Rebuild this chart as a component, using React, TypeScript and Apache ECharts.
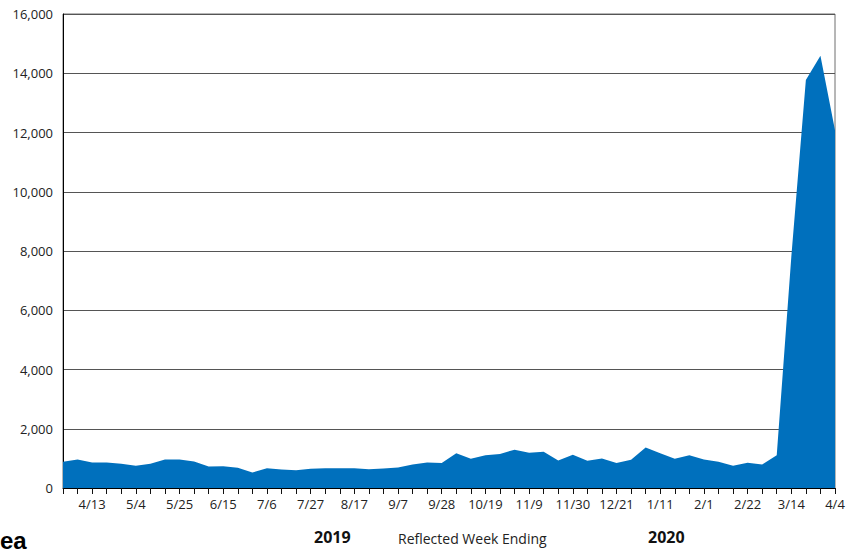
import React, { useEffect, useRef } from "react";
import * as echarts from "echarts";

const weeks: string[] = [
  "3/30", "4/6", "4/13", "4/20", "4/27", "5/4", "5/11", "5/18", "5/25", "6/1",
  "6/8", "6/15", "6/22", "6/29", "7/6", "7/13", "7/20", "7/27", "8/3", "8/10",
  "8/17", "8/24", "8/31", "9/7", "9/14", "9/21", "9/28", "10/5", "10/12", "10/19",
  "10/26", "11/2", "11/9", "11/16", "11/23", "11/30", "12/7", "12/14", "12/21", "12/28",
  "1/4", "1/11", "1/18", "1/25", "2/1", "2/8", "2/15", "2/22", "2/29", "3/7",
  "3/14", "3/21", "3/28", "4/4",
];

const claims: number[] = [
  886, 966, 863, 863, 818, 750, 818, 966, 966, 897,
  727, 738, 682, 523, 670, 625, 602, 648, 670, 670,
  670, 636, 659, 693, 795, 863, 840, 1170, 988, 1102,
  1147, 1295, 1193, 1227, 932, 1125, 920, 1000, 840, 954,
  1363, 1170, 988, 1102, 966, 886, 750, 852, 795, 1102,
  7800, 13770, 14590, 12080,
];

const yTicks = { min: 0, max: 16000, interval: 2000 };
const axisTitle = "Reflected Week Ending";
const yearLabels = ["2019", "2020"];
const cutTitle = "ea";

const FONT = "'Open Sans', 'Noto Sans', sans-serif";

export default function App() {
  const ref = useRef<HTMLDivElement>(null);

  useEffect(() => {
    document.body.style.margin = "0";
    if (!ref.current) return;
    const chart = echarts.init(ref.current, undefined, { renderer: "svg" });
    chart.setOption({
      animation: false,
      backgroundColor: "#ffffff",
      grid: {
        left: 63,
        right: 23,
        top: 14,
        bottom: 64,
        show: true,
        borderColor: "#6f6f6f",
        borderWidth: 1,
        backgroundColor: "transparent",
      },
      xAxis: {
        type: "category",
        data: weeks,
        boundaryGap: false,
        axisLine: { show: true, lineStyle: { color: "#000", width: 1 } },
        axisTick: { show: true, interval: 0, length: 6, lineStyle: { color: "#111" } },
        axisLabel: {
          interval: (i: number) => (i - 2) % 3 === 0,
          color: "#222",
          fontSize: 13,
          fontFamily: FONT,
          margin: 9,
        },
        splitLine: { show: false },
      },
      yAxis: {
        type: "value",
        min: yTicks.min,
        max: yTicks.max,
        interval: yTicks.interval,
        axisLine: { show: true, lineStyle: { color: "#000", width: 1 } },
        axisTick: { show: false },
        axisLabel: {
          color: "#222",
          fontSize: 13,
          fontFamily: FONT,
          margin: 10,
          formatter: (v: number) => v.toLocaleString("en-US"),
        },
        splitLine: { show: true, lineStyle: { color: "#555", width: 1 } },
      },
      series: [
        {
          type: "line",
          data: claims,
          showSymbol: false,
          symbol: "none",
          lineStyle: { width: 0, color: "#0070BD" },
          areaStyle: { color: "#0070BD", opacity: 1 },
          itemStyle: { color: "#0070BD" },
        },
      ],
      graphic: [
        {
          type: "text",
          left: 314,
          top: 529,
          style: {
            text: yearLabels[0],
            font: `bold 16px ${FONT}`,
            fill: "#111",
          },
        },
        {
          type: "text",
          left: 398,
          top: 531,
          style: {
            text: axisTitle,
            font: `14px ${FONT}`,
            fill: "#222",
          },
        },
        {
          type: "text",
          left: 648,
          top: 529,
          style: {
            text: yearLabels[1],
            font: `bold 16px ${FONT}`,
            fill: "#111",
          },
        },
        {
          type: "text",
          x: 0,
          y: 552,
          style: {
            text: cutTitle,
            font: `bold 24px 'Liberation Sans', Arial, sans-serif`,
            fill: "#000",
            textVerticalAlign: "bottom",
          },
        },
      ],
    });
    return () => chart.dispose();
  }, []);

  return <div ref={ref} style={{ width: 858, height: 552 }} />;
}
